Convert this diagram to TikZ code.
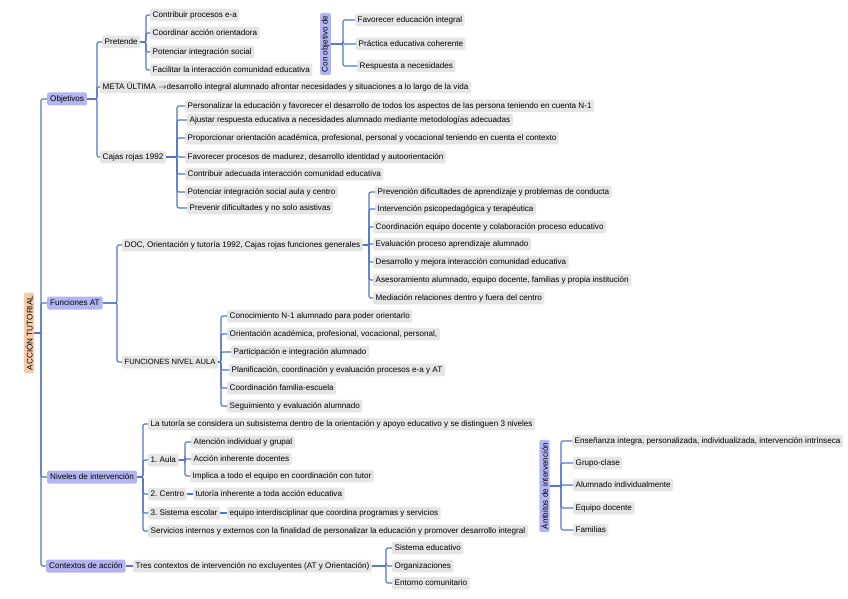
\documentclass[tikz,border=0pt]{standalone}
\usepackage{fontspec}
\setmainfont{Liberation Sans}
\definecolor{lb}{RGB}{84,118,200}
\definecolor{gr}{RGB}{229,229,229}
\definecolor{lav}{RGB}{180,180,242}
\definecolor{peach}{RGB}{248,204,170}
\newcommand\mmfs{\fontsize{8.1}{9}\selectfont}
\newcommand\mmlink[3]{\draw[link] (#1) -- (#1 -| #2) |- (#3.west);}
\begin{document}
\begin{tikzpicture}[x=1pt,y=-1pt,
  link/.style={draw=lb, line width=1.15pt, rounded corners=2pt},
  leaf/.style={fill=gr, rounded corners=1.5pt, inner xsep=2.5pt, inner ysep=0pt, minimum height=12.5pt, anchor=west, font=\mmfs},
  mainbox/.style={fill=lav, rounded corners=2pt, inner xsep=3pt, inner ysep=0pt, minimum height=13pt, anchor=west, font=\mmfs},
  vbox/.style={fill=lav, rounded corners=2pt, inner xsep=3pt, inner ysep=1.5pt, rotate=90, font=\mmfs},
  rootbox/.style={fill=peach, rounded corners=2pt, inner xsep=3pt, inner ysep=1.5pt, rotate=90, font=\fontsize{8.2}{9}\selectfont}
]
\fill[white] (0,0) rectangle (848,599);
\useasboundingbox (0,0) rectangle (848,599);

% root and level 1
\node[rootbox] (root) at (29,333) {ACCIÓN TUTORIAL};
\node[mainbox] (obj) at (47,99) {Objetivos};
\node[mainbox] (fun) at (47,303) {Funciones AT};
\node[mainbox] (niv) at (47,477) {Niveles de intervención};
\node[mainbox] (con) at (46,566) {Contextos de acción};
\coordinate (t0) at (41,0);
\draw[link] (root.south) -- (root.south -| t0);
\foreach \n in {obj,fun,niv,con} {\draw[link] (root.south -| t0) |- (\n.west);}

% Objetivos
\coordinate (b1) at (97,0);
\node[leaf] (pre) at (102,42) {Pretende};
\node[leaf] (meta) at (100,87) {META ÚLTIMA $\rightarrow$desarrollo integral alumnado afrontar necesidades y situaciones a lo largo de la vida};
\node[leaf] (caj) at (100,157) {Cajas rojas 1992};
\foreach \n in {pre,meta,caj} {\mmlink{obj.east}{b1}{\n}}

\coordinate (b2) at (146,0);
\node[leaf] (p1) at (150,15) {Contribuir procesos e-a};
\node[leaf] (p2) at (150,33) {Coordinar acción orientadora};
\node[leaf] (p3) at (150,52) {Potenciar integración social};
\node[leaf] (p4) at (150,70) {Facilitar la interacción comunidad educativa};
\foreach \n in {p1,p2,p3,p4} {\mmlink{pre.east}{b2}{\n}}

\node[vbox] (cod) at (325.5,44) {Con objetivo de};
\coordinate (b3) at (343,0);
\node[leaf] (c1) at (355,20) {Favorecer educación integral};
\node[leaf] (c2) at (356,44) {Práctica educativa coherente};
\node[leaf] (c3) at (357,66) {Respuesta a necesidades};
\foreach \n in {c1,c2,c3} {\mmlink{cod.south}{b3}{\n}}

\coordinate (b4) at (177,0);
\node[leaf] (r1) at (185,106) {Personalizar la educación y favorecer el desarrollo de todos los aspectos de las persona teniendo en cuenta N-1};
\node[leaf] (r2) at (187,120) {Ajustar respuesta educativa a necesidades alumnado mediante metodologías adecuadas};
\node[leaf] (r3) at (185,138) {Proporcionar orientación académica, profesional, personal y vocacional teniendo en cuenta el contexto};
\node[leaf] (r4) at (185,157) {Favorecer procesos de madurez, desarrollo identidad y autoorientación};
\node[leaf] (r5) at (185,174) {Contribuir adecuada interacción comunidad educativa};
\node[leaf] (r6) at (185,192) {Potenciar integración social aula y centro};
\node[leaf] (r7) at (187,208) {Prevenir dificultades y no solo asistivas};
\foreach \n in {r1,r2,r3,r4,r5,r6,r7} {\mmlink{caj.east}{b4}{\n}}

% Funciones AT
\coordinate (b5) at (117,0);
\node[leaf] (doc) at (122,245) {DOC, Orientación y tutoría 1992, Cajas rojas funciones generales};
\node[leaf, font=\fontsize{7.6}{8.5}\selectfont] (aula) at (122,362) {FUNCIONES NIVEL AULA};
\foreach \n in {doc,aula} {\mmlink{fun.east}{b5}{\n}}

\coordinate (b6) at (369,0);
\node[leaf] (d1) at (375,192) {Prevención dificultades de aprendizaje y problemas de conducta};
\node[leaf] (d2) at (375,209) {Intervención psicopedagógica y terapéutica};
\node[leaf] (d3) at (373,227) {Coordinación equipo docente y colaboración proceso educativo};
\node[leaf] (d4) at (373,244) {Evaluación proceso aprendizaje alumnado};
\node[leaf] (d5) at (373,262) {Desarrollo y mejora interacción comunidad educativa};
\node[leaf] (d6) at (373,280) {Asesoramiento alumnado, equipo docente, familias y propia institución};
\node[leaf] (d7) at (373,298) {Mediación relaciones dentro y fuera del centro};
\foreach \n in {d1,d2,d3,d4,d5,d6,d7} {\mmlink{doc.east}{b6}{\n}}

\coordinate (b7) at (221,0);
\node[leaf] (a1) at (227,316) {Conocimiento N-1 alumnado para poder orientarlo};
\node[leaf] (a2) at (227,334) {Orientación académica, profesional, vocacional, personal,};
\node[leaf] (a3) at (231,352) {Participación e integración alumnado};
\node[leaf] (a4) at (229,370) {Planificación, coordinación y evaluación procesos e-a y AT};
\node[leaf] (a5) at (227,388) {Coordinación familia-escuela};
\node[leaf] (a6) at (227,406) {Seguimiento y evaluación alumnado};
\foreach \n in {a1,a2,a3,a4,a5,a6} {\mmlink{aula.east}{b7}{\n}}

% Niveles de intervencion
\coordinate (b8) at (143,0);
\node[leaf] (n1) at (148,424) {La tutoría se considera un subsistema dentro de la orientación y apoyo educativo y se distinguen 3 niveles};
\node[leaf] (n2) at (148,460) {1.\ Aula};
\node[leaf] (n3) at (148,494) {2.\ Centro};
\node[leaf] (n4) at (148,513) {3.\ Sistema escolar};
\node[leaf] (n5) at (148,531) {Servicios internos y externos con la finalidad de personalizar la educación y promover desarrollo integral};
\foreach \n in {n1,n2,n3,n4,n5} {\mmlink{niv.east}{b8}{\n}}

\coordinate (b9) at (185,0);
\node[leaf] (u1) at (191,442) {Atención individual y grupal};
\node[leaf] (u2) at (191,459) {Acción inherente docentes};
\node[leaf] (u3) at (190,476) {Implica a todo el equipo en coordinación con tutor};
\foreach \n in {u1,u2,u3} {\mmlink{n2.east}{b9}{\n}}

\node[leaf] (ce) at (193,494) {tutoría inherente a toda acción educativa};
\draw[link] (n3.east) -- (ce.west);
\node[leaf] (se) at (227,513) {equipo interdisciplinar que coordina programas y servicios};
\draw[link] (n4.east) -- (se.west);

\node[vbox] (amb) at (544.5,486) {Ámbitos de intervención};
\coordinate (b10) at (561,0);
\node[leaf] (m1) at (572,441) {Enseñanza integra, personalizada, individualizada, intervención intrínseca};
\node[leaf] (m2) at (573,463) {Grupo-clase};
\node[leaf] (m3) at (573,485) {Alumnado individualmente};
\node[leaf] (m4) at (573,508) {Equipo docente};
\node[leaf] (m5) at (573,530) {Familias};
\foreach \n in {m1,m2,m3,m4,m5} {\mmlink{amb.south}{b10}{\n}}

% Contextos
\node[leaf] (tres) at (133,566) {Tres contextos de intervención no excluyentes (AT y Orientación)};
\draw[link] (con.east) -- (tres.west);
\coordinate (b11) at (386,0);
\node[leaf] (x1) at (392,548) {Sistema educativo};
\node[leaf] (x2) at (392,566) {Organizaciones};
\node[leaf] (x3) at (392,583) {Entorno comunitario};
\foreach \n in {x1,x2,x3} {\mmlink{tres.east}{b11}{\n}}
\end{tikzpicture}
\end{document}
